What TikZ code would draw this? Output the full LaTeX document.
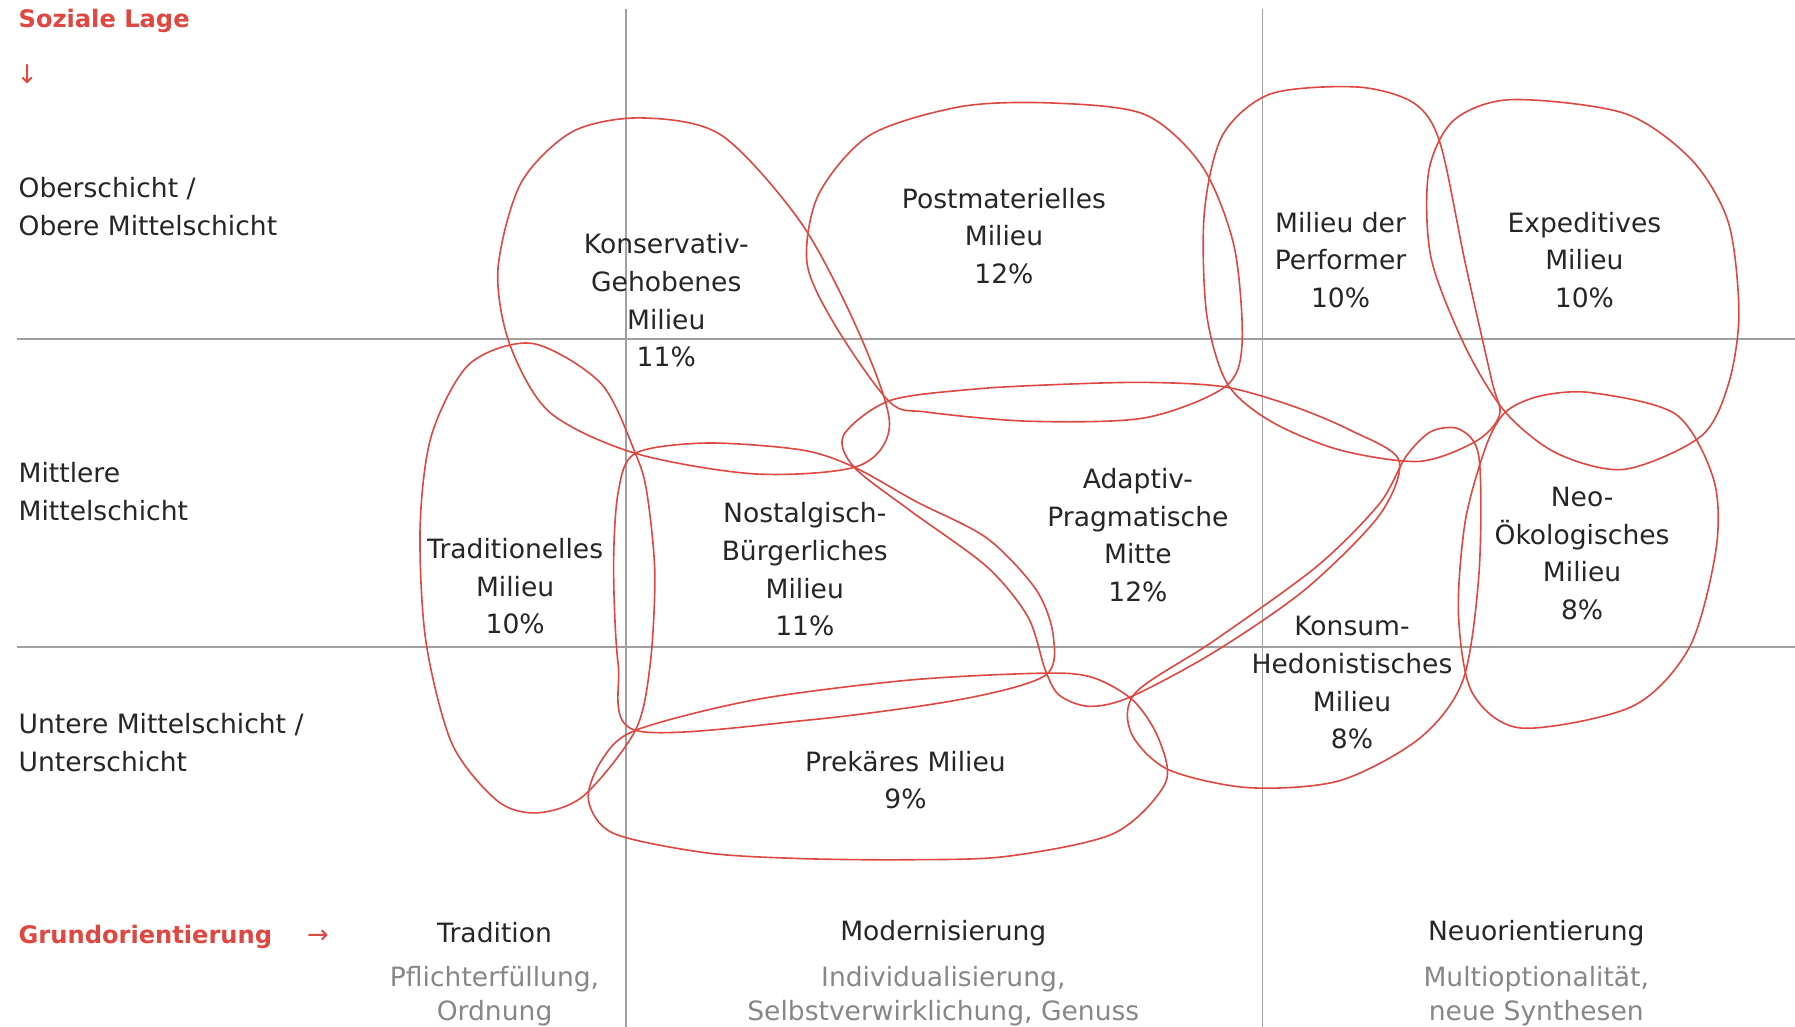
\documentclass[tikz,border=0pt]{standalone}
\usepackage{fontspec}
\setmainfont{DejaVu Sans}
\definecolor{milieurot}{RGB}{222,72,64}
\definecolor{rastergrau}{RGB}{160,160,160}
\definecolor{untergrau}{RGB}{135,135,135}
\tikzset{
  milieu/.style={milieurot, line width=1pt},
  raster/.style={rastergrau, line width=0.9pt},
  etikett/.style={align=center, inner sep=0pt, text=black!85, font=\fontsize{16.5}{23.4}\selectfont},
  schicht/.style={etikett, align=left, anchor=west},
  achse/.style={inner sep=0pt, anchor=west, text=milieurot, font=\fontsize{15}{20}\selectfont\bfseries},
  unter/.style={etikett, text=untergrau, font=\fontsize{16.5}{21.3}\selectfont},
}
\begin{document}
\begin{tikzpicture}[x=0.025cm, y=-0.025cm]
  \useasboundingbox (0,0) rectangle (1568,897);
  % Raster
    \foreach \gx in {547,1103}
      \draw[raster] (\gx,8) -- (\gx,897);
    \foreach \gy in {296,565}
      \draw[raster] (15,\gy) -- (1568,\gy);

  % Milieus
    % Konservativ-Gehobenes
      \draw[milieu] plot[smooth cycle] coordinates {(555,396) (480,360) (445,300) (435,235) (455,160) (500,115) (560,103) (630,118) (700,195) (750,290) (777,370) (750,407) (660,414)};
    % Postmaterielles
      \draw[milieu] plot[smooth cycle] coordinates {(777,351) (730,285) (705,230) (715,170) (760,118) (840,93) (920,90) (1000,100) (1050,145) (1078,215) (1085,300) (1070,338) (1000,365) (900,368) (810,360)};
    % Performer
      \draw[milieu] plot[smooth cycle] coordinates {(1186,76) (1235,90) (1258,125) (1280,230) (1303,332) (1310,362) (1290,385) (1240,403) (1170,393) (1110,368) (1072,335) (1054,274) (1052,186) (1068,118) (1110,82)};
    % Expeditives
      \draw[milieu] plot[smooth cycle] coordinates {(1320,87) (1419,99) (1478,140) (1510,195) (1519,274) (1510,335) (1486,381) (1419,410) (1360,396) (1315,360) (1280,303) (1250,225) (1248,150) (1270,105)};
    % Neo-Oekologisches
      \draw[milieu] plot[smooth cycle] coordinates {(1315,360) (1345,346) (1390,343) (1464,362) (1497,419) (1499,480) (1476,565) (1426,617) (1329,636) (1286,605) (1274,536) (1280,455) (1298,390)};
    % Adaptiv-Pragmatische Mitte
      \draw[milieu] plot[smooth cycle] coordinates {(777,350) (850,340) (921,336) (1000,334) (1070,338) (1130,355) (1180,376) (1222,402) (1205,450) (1140,515) (1060,570) (987,609) (951,617) (925,607) (913,585) (898,539) (862,495) (795,446) (746,408) (737,380)};
    % Konsum-Hedonistisches
      \draw[milieu] plot[smooth cycle] coordinates {(1228,399) (1250,377) (1275,375) (1292,400) (1292,500) (1278,594) (1240,645) (1170,682) (1090,688) (1020,672) (988,640) (992,605) (1060,560) (1150,495) (1205,440)};
    % Nostalgisch-Buergerliches
      \draw[milieu] plot[smooth cycle] coordinates {(555,396) (617,387) (700,393) (746,408) (800,438) (862,470) (905,515) (920,555) (913,590) (839,611) (706,629) (555,638) (540,580) (536,495) (540,430)};
    % Traditionelles
      \draw[milieu] plot[smooth cycle] coordinates {(555,396) (525,335) (465,300) (410,318) (377,380) (367,460) (372,560) (395,650) (435,700) (470,710) (510,695) (555,638) (568,580) (572,500) (565,430)};
    % Prekaeres
      \draw[milieu] plot[smooth cycle] coordinates {(555,638) (661,611) (795,594) (913,588) (955,592) (990,612) (1012,645) (1018,684) (973,728) (880,748) (795,751) (700,750) (617,745) (536,728) (514,699) (525,665)};

  % Achsen
    \node[achse] (soziale) at (16,18) {Soziale Lage};
    \node[achse, font=\fontsize{16}{20}\selectfont] (pfeilab) at (14,65) {↓};
    \node[achse] (grund) at (16,818) {Grundorientierung};
    \node[achse, font=\fontsize{16}{20}\selectfont] (pfeilrechts) at (268,818) {→};

  % Schichten
    \node[schicht] (oben) at (16,180.5) {Oberschicht /\\Obere Mittelschicht};
    \node[schicht] (mittel) at (16,429.5) {Mittlere\\Mittelschicht};
    \node[schicht] (unten) at (16,648.5) {Untere Mittelschicht /\\Unterschicht};

  % Grundorientierungen
    \node[etikett] (tradition) at (432,815) {Tradition};
    \node[unter] (traditionsub) at (432,870) {Pflichterfüllung,\\Ordnung};
    \node[etikett] (modern) at (824,815) {Modernisierung};
    \node[unter] (modernsub) at (824,870) {Individualisierung,\\Selbstverwirklichung, Genuss};
    \node[etikett] (neu) at (1342,815) {Neuorientierung};
    \node[unter] (neusub) at (1342,870) {Multioptionalität,\\neue Synthesen};

  % Milieu-Namen
    \node[etikett] (kg) at (582,262.5) {Konservativ-\\Gehobenes\\Milieu\\11\%};
    \node[etikett] (post) at (877,206) {Postmaterielles\\Milieu\\12\%};
    \node[etikett] (perf) at (1171,227) {Milieu der\\Performer\\10\%};
    \node[etikett] (exped) at (1384,227) {Expeditives\\Milieu\\10\%};
    \node[etikett] (trad) at (450,512) {Traditionelles\\Milieu\\10\%};
    \node[etikett] (nost) at (703,497.5) {Nostalgisch-\\Bürgerliches\\Milieu\\11\%};
    \node[etikett] (adapt) at (994,467.5) {Adaptiv-\\Pragmatische\\Mitte\\12\%};
    \node[etikett] (neo) at (1382,483.5) {Neo-\\Ökologisches\\Milieu\\8\%};
    \node[etikett] (konsum) at (1181,596.5) {Konsum-\\Hedonistisches\\Milieu\\8\%};
    \node[etikett] (prek) at (791,681.5) {Prekäres Milieu\\9\%};
\end{tikzpicture}
\end{document}
